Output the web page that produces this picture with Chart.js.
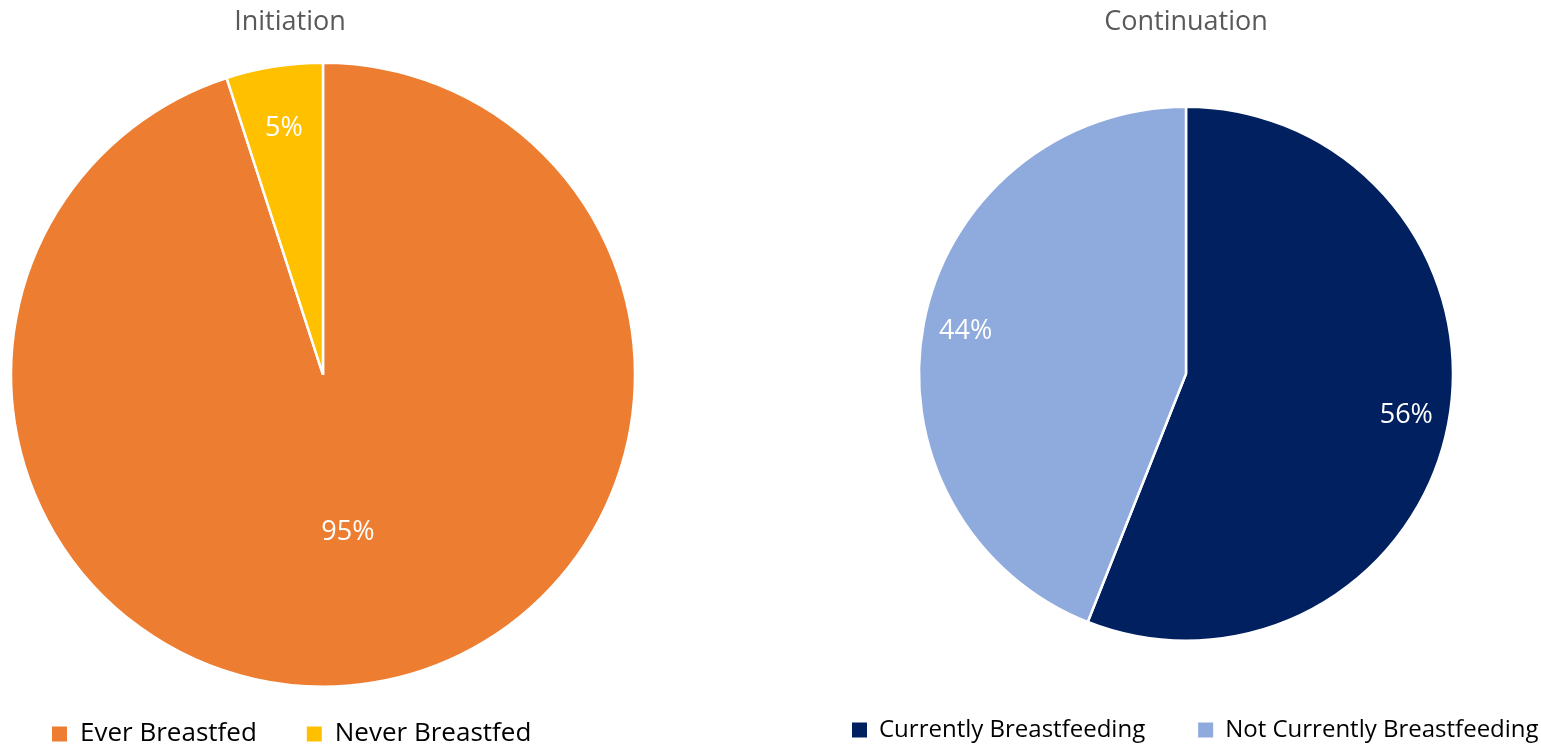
<!DOCTYPE html>
<html>
<head>
<meta charset="utf-8">
<title>Breastfeeding initiation and continuation</title>
<script src="https://cdn.jsdelivr.net/npm/chart.js@4/dist/chart.umd.min.js"></script>
<style>
  html, body { margin: 0; padding: 0; overflow: hidden; background: #fff; }
  body { width: 1541px; height: 747px; position: relative; }
  .pie-box { position: absolute; top: 0; }
  #initBox { left: 8px; width: 630px; height: 757px; }
  #contBox { left: 776px; width: 820px; height: 752px; }
</style>
</head>
<body>
<div class="pie-box" id="initBox"><canvas id="initChart"></canvas></div>
<div class="pie-box" id="contBox"><canvas id="contChart"></canvas></div>

<script>
/* ── DATA ───────────────────────────────────────────────── */
const initLabels = ['Ever Breastfed', 'Never Breastfed'];
const initValues = [95, 5];
const initColors = ['#ED7D31', '#FFC000'];

const contLabels = ['Currently Breastfeeding', 'Not Currently Breastfeeding'];
const contValues = [56, 44];
const contColors = ['#002060', '#8FAADC'];

Chart.defaults.font.family = "'Open Sans', 'Noto Sans', sans-serif";
Chart.defaults.color = '#595959';

/* ── PLUGINS ────────────────────────────────────────────── */
// white percentage labels inside each slice
const sliceLabels = {
  id: 'sliceLabels',
  afterDatasetsDraw(chart, args, opts) {
    const { ctx } = chart;
    const values = chart.data.datasets[0].data;
    chart.getDatasetMeta(0).data.forEach((arc, i) => {
      const { x, y, startAngle, endAngle, outerRadius } = arc.getProps(
        ['x', 'y', 'startAngle', 'endAngle', 'outerRadius'], true);
      const mid = (startAngle + endAngle) / 2;
      const r = outerRadius * opts.radial[i];
      ctx.save();
      ctx.fillStyle = '#fff';
      ctx.font = opts.size + "px 'Open Sans', sans-serif";
      ctx.textAlign = 'center';
      ctx.textBaseline = 'middle';
      ctx.fillText(values[i] + '%', x + Math.cos(mid) * r, y + Math.sin(mid) * r);
      ctx.restore();
    });
  }
};

// slide title / legend sideways without moving the pie
const boxNudge = {
  id: 'boxNudge',
  afterLayout(chart, args, opts) {
    const shift = (box, dx) => {
      if (!box || !dx) return;
      box.left += dx;
      box.right += dx;
    };
    shift(chart.titleBlock, opts.title);
    shift(chart.legend, opts.legend);
  }
};

// square legend swatches without the slice border
const squareLabels = chart => chart.data.labels.map((text, i) => ({
  text,
  fillStyle: chart.data.datasets[0].backgroundColor[i],
  strokeStyle: 'rgba(0,0,0,0)',
  lineWidth: 0,
  hidden: false,
  index: i
}));

/* ── BUILD ──────────────────────────────────────────────── */
function buildPie(el, cfg) {
  return new Chart(el, {
    type: 'pie',
    data: {
      labels: cfg.labels,
      datasets: [{
        data: cfg.values,
        backgroundColor: cfg.colors,
        borderColor: '#fff',
        borderWidth: 2.5,
        radius: cfg.radius,
        clip: false
      }]
    },
    plugins: [sliceLabels, boxNudge],
    options: {
      responsive: true, maintainAspectRatio: false, animation: false,
      layout: { padding: 0 },
      plugins: {
        title: {
          display: true, text: cfg.title,
          font: { size: 27, weight: 'normal' }, color: '#595959',
          padding: cfg.titlePad
        },
        boxNudge: cfg.nudge,
        legend: {
          position: 'bottom', align: 'start',
          labels: {
            boxWidth: 15, boxHeight: 15, color: '#595959',
            font: { size: cfg.legendSize },
            padding: cfg.legendGap,
            generateLabels: squareLabels
          }
        },
        tooltip: { enabled: false },
        sliceLabels: { radial: cfg.radial, size: 27 }
      }
    }
  });
}

buildPie(document.getElementById('initChart'), {
  title: 'Initiation', labels: initLabels, values: initValues, colors: initColors,
  radius: 312, titlePad: { top: 6, bottom: 40 }, nudge: { title: -33, legend: -6 },
  legendSize: 26, legendGap: 50, radial: [0.51, 0.80]
});

buildPie(document.getElementById('contChart'), {
  title: 'Continuation', labels: contLabels, values: contValues, colors: contColors,
  radius: 267, titlePad: { top: 6, bottom: 44 }, nudge: { title: 0, legend: 23 },
  legendSize: 24, legendGap: 53, radial: [0.84, 0.84]
});
</script>
</body>
</html>
